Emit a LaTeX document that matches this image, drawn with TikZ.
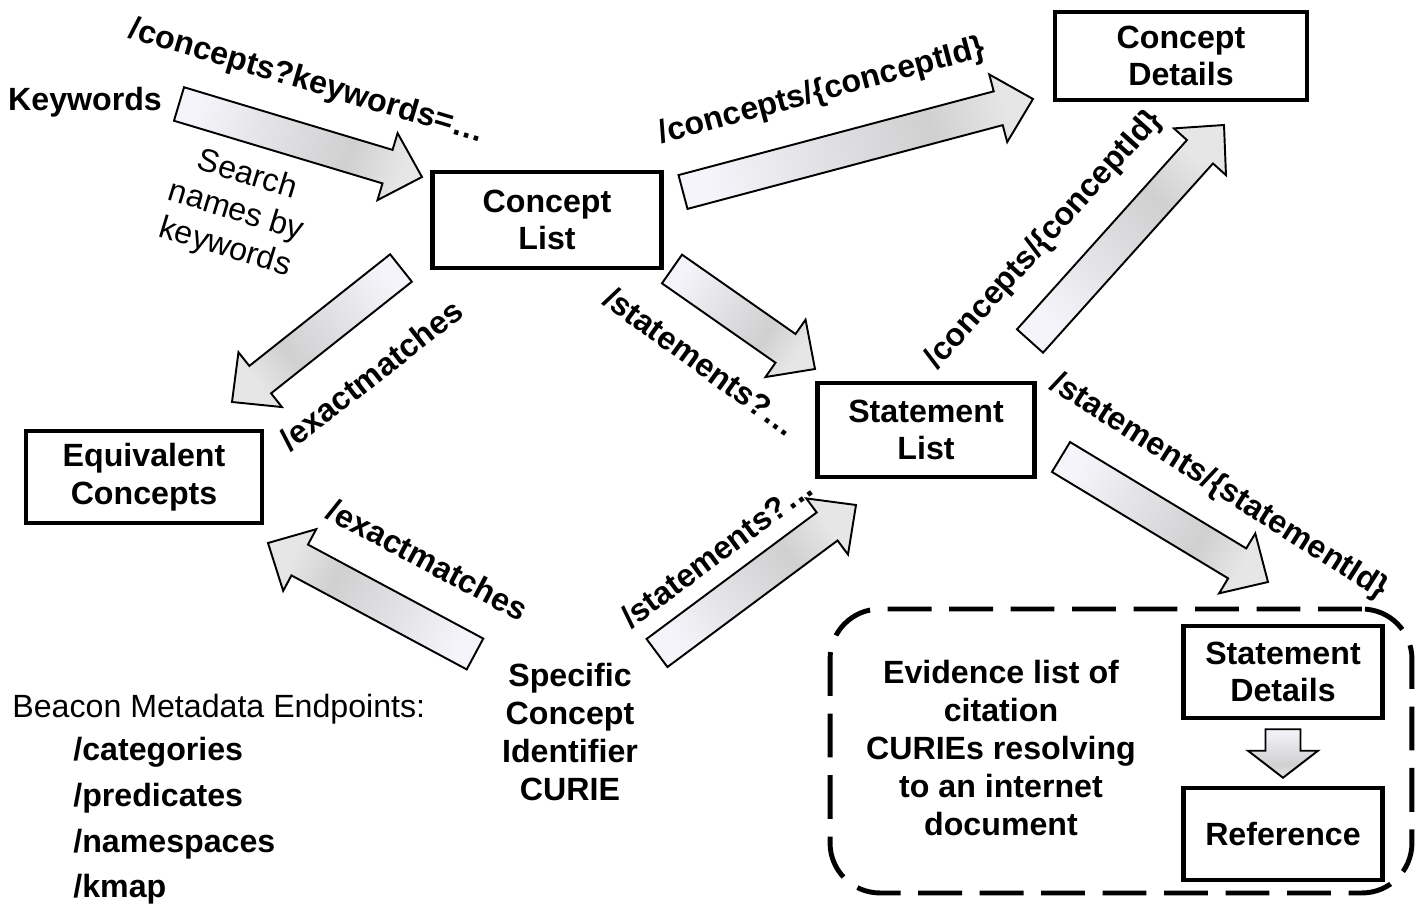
\documentclass[tikz,border=0pt]{standalone}
\usepackage{fontspec}
\setmainfont{Liberation Sans}
\usepackage{tikz}
\usetikzlibrary{calc}
\definecolor{tailgrey}{HTML}{F4F4FA}
\definecolor{midgrey}{HTML}{D0D0D1}
\definecolor{headgrey}{HTML}{E6E6E6}
\pgfdeclareverticalshading{arrowshade}{100bp}{color(0bp)=(headgrey); color(25bp)=(headgrey);
  color(38bp)=(midgrey); color(75bp)=(tailgrey); color(100bp)=(tailgrey)}
\newcommand\labelsize{\fontsize{18.3}{21.5}\selectfont}
% block arrow: [head length]{tail}{tip}{shading angle}
\newcommand\fatarrow[4][0.72cm]{%
  \path ($(#3)!#1!(#2)$) coordinate (fa-b);
  \draw[arrowbody,shading angle=#4]
    ($(#2)!0.35cm!90:(#3)$) -- ($(fa-b)!0.35cm!90:(#3)$) -- ($(fa-b)!0.7cm!90:(#3)$) -- (#3)
    -- ($(fa-b)!0.7cm!-90:(#3)$) -- ($(fa-b)!0.35cm!-90:(#3)$) -- ($(#2)!0.35cm!-90:(#3)$) -- cycle;
}
\tikzset{
  box/.style={draw,line width=2.6pt,align=center,font=\labelsize\bfseries,inner sep=0pt},
  lbl/.style={font=\labelsize\bfseries,inner sep=0pt},
  plain/.style={font=\labelsize,inner sep=0pt},
  arrowbody/.style={draw=black,line width=1.1pt,shade,shading=arrowshade},
  evframe/.style={draw,line width=2.8pt,dash pattern=on 25pt off 10pt,rounded corners=1cm}
}

\begin{document}
\begin{tikzpicture}[x=0.02cm,y=-0.02cm]
  \useasboundingbox (0,0) rectangle (1421,905);
  % boxes
  \node[box,minimum width=4.58cm,minimum height=1.92cm] (clist) at (547,220) {Concept\\List};
  \node[box,minimum width=5.04cm,minimum height=1.76cm] (cdet) at (1181,56) {Concept\\Details};
  \node[box,minimum width=4.34cm,minimum height=1.88cm] (slist) at (926,430) {Statement\\List};
  \node[box,minimum width=4.72cm,minimum height=1.84cm] (equiv) at (144,477) {Equivalent\\Concepts};
  \node[evframe,minimum width=11.64cm,minimum height=5.68cm] (evid) at (1121,751) {};
  \node[box,minimum width=3.98cm,minimum height=1.84cm] (sdet) at (1283,672) {Statement\\Details};
  \node[box,minimum width=3.98cm,minimum height=1.84cm] (ref) at (1283,834) {Reference};
  % free text
  \node[lbl] (kw) at (85,102) {Keywords};
  \node[lbl,align=center] (curie) at (570,732) {Specific\\Concept\\Identifier\\CURIE};
  \node[lbl,align=center] (evtext) at (1001,748) {Evidence list of\\citation\\CURIEs resolving\\to an internet\\document};
  \node[plain,anchor=base west] (beacon) at (12,717) {Beacon Metadata Endpoints:};
  \node[lbl,anchor=base west] (cat) at (73,760) {/categories};
  \node[lbl,anchor=base west] (pred) at (73,806) {/predicates};
  \node[lbl,anchor=base west] (nsp) at (73,852) {/namespaces};
  \node[lbl,anchor=base west] (kmap) at (73,897) {/kmap};
  % arrow ends
  \coordinate (srch-s) at (179,104);  \coordinate (srch-e) at (422,177);
  \coordinate (cdet-s) at (683,192);  \coordinate (cdet-e) at (1033,99);
  \coordinate (exm1-s) at (401,268);  \coordinate (exm1-e) at (232,402);
  \coordinate (stm1-s) at (672,269);  \coordinate (stm1-e) at (815,369);
  \coordinate (cdet2-s) at (1030,341); \coordinate (cdet2-e) at (1224,125);
  \coordinate (sdet-s) at (1061,457); \coordinate (sdet-e) at (1268,582);
  \coordinate (exm2-s) at (475,654);  \coordinate (exm2-e) at (268,543);
  \coordinate (stm2-s) at (657,653);  \coordinate (stm2-e) at (856,505);
  \coordinate (dn-s) at ($(sdet.south)+(0,9)$); \coordinate (dn-e) at ($(ref.north)+(0,-8)$);
  \foreach \s/\a in {srch/73.3,cdet/104.9,exm1/308.4,stm1/55,cdet2/138.1,sdet/58.9,exm2/241.8,stm2/126.6}
    \fatarrow{\s-s}{\s-e}{\a};
  \fatarrow[0.54cm]{dn-s}{dn-e}{0}
  % arrow labels
  \node[lbl,rotate=-16.5] (l-srch) at (307,82) {/concepts?keywords=…};
  \node[plain,align=center,rotate=-17] (l-names) at (236,212) {Search\\names by\\keywords};
  \node[lbl,rotate=15] (l-cdet) at (822,92) {/concepts/\{conceptId\}};
  \node[lbl,rotate=38] (l-exm1) at (371,375) {/exactmatches};
  \node[lbl,rotate=-36] (l-stm1) at (701,362) {/statements?…};
  \node[lbl,rotate=48] (l-cdet2) at (1044,240) {/concepts/\{conceptId\}};
  \node[lbl,rotate=-32.5] (l-sdet) at (1219,487) {/statements/\{statementId\}};
  \node[lbl,rotate=-28] (l-exm2) at (428,560) {/exactmatches};
  \node[lbl,rotate=36.6] (l-stm2) at (717,552) {/statements?…};
\end{tikzpicture}
\end{document}
